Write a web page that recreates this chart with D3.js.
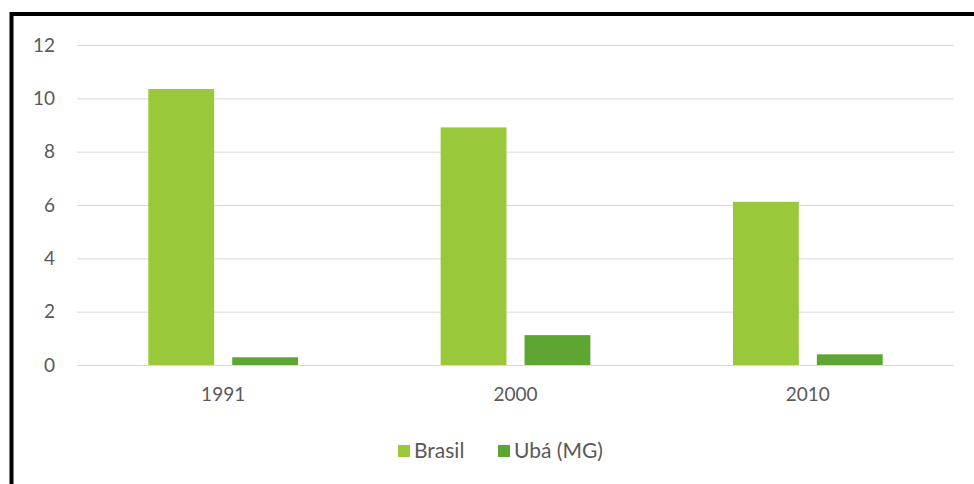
<!DOCTYPE html>
<html><head><meta charset="utf-8">
<script src="https://cdn.jsdelivr.net/npm/d3@7"></script>
<style>body{margin:0;background:#fff;}svg{display:block;}</style>
</head><body>
<script>
const categories = ["1991", "2000", "2010"];
const seriesNames = ["Brasil", "Ubá (MG)"];
const brasil = [10.35, 8.91, 6.12];
const uba = [0.29, 1.12, 0.40];
const yTicks = [0, 2, 4, 6, 8, 10, 12];
const colors = ["#99c93b", "#5ea634"];

(function () {
const W = 974, H = 484;
const svg = d3.select("body").append("svg").attr("width", W).attr("height", H);
svg.append("rect").attr("width", W).attr("height", H).attr("fill", "#fff");
svg.append("rect").attr("x", 11.5).attr("y", 14).attr("width", W + 20).attr("height", H + 20)
  .attr("fill", "none").attr("stroke", "#000").attr("stroke-width", 4);

const mLeft = 77, mRight = 954, mTop = 45, mBottom = 365;
const y = d3.scaleLinear().domain([0, 12]).range([mBottom, mTop]);
const x0 = d3.scaleBand().domain(categories).range([mLeft, mRight]).paddingInner(0).paddingOuter(0);
const x1 = d3.scaleBand().domain(seriesNames).range([0, x0.bandwidth()]).paddingInner(0.215).paddingOuter(0.85);
const font = "Lato, 'Open Sans', sans-serif";
const textColor = "#595959";

const yAxis = svg.append("g").attr("transform", `translate(${mLeft},0)`)
  .call(d3.axisLeft(y).tickValues(yTicks).tickSize(-(mRight - mLeft)).tickPadding(22));
yAxis.select(".domain").remove();
yAxis.selectAll("line").attr("stroke", "#d9d9d9").attr("stroke-width", 1);
yAxis.selectAll("text").attr("fill", textColor).style("font-family", font).style("font-size", "19px");

const data = categories.map((c, i) => ({cat: c, vals: [brasil[i], uba[i]]}));
const g = svg.append("g").selectAll("g").data(data).join("g")
  .attr("transform", d => `translate(${x0(d.cat)},0)`);
g.selectAll("rect").data(d => d.vals.map((v, j) => ({name: seriesNames[j], v, j}))).join("rect")
  .attr("x", d => x1(d.name)).attr("width", x1.bandwidth())
  .attr("y", d => y(d.v)).attr("height", d => y(0) - y(d.v))
  .attr("fill", d => colors[d.j]);

const xAxis = svg.append("g").attr("transform", `translate(0,${mBottom})`)
  .call(d3.axisBottom(x0).tickSize(0).tickPadding(23));
xAxis.select(".domain").remove();
xAxis.selectAll("text").attr("fill", textColor).style("font-family", font).style("font-size", "19px");

const legend = svg.append("g").attr("transform", "translate(398,445)");
const legX = [0, 100];
seriesNames.forEach((n, i) => {
  const lg = legend.append("g").attr("transform", `translate(${legX[i]},0)`);
  lg.append("rect").attr("width", 12).attr("height", 12).attr("fill", colors[i]);
  lg.append("text").attr("x", 16).attr("y", 6).attr("dy", "0.35em").text(n)
    .attr("fill", textColor).style("font-family", font).style("font-size", "21px");
});
})();
</script>
</body></html>
